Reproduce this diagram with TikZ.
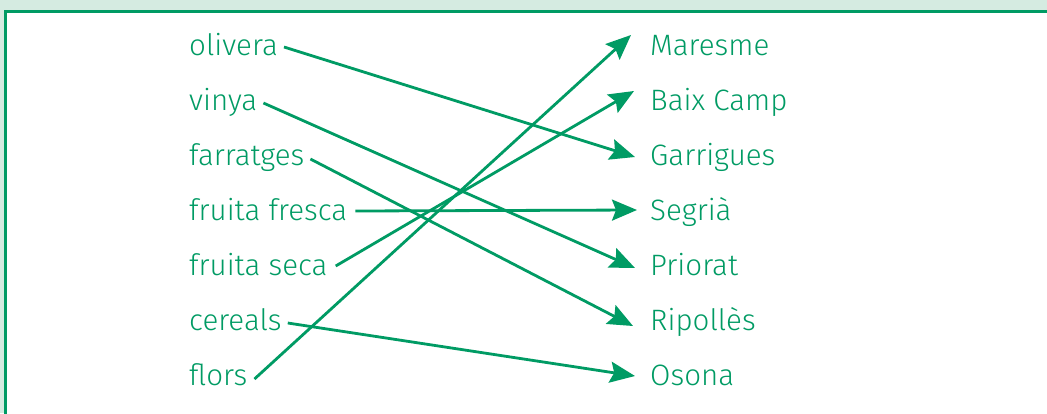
\documentclass[tikz,border=0pt]{standalone}
\usepackage{fontspec}
\setmainfont{Fira Sans Light}
\usetikzlibrary{arrows.meta}
\definecolor{vgreen}{RGB}{0,155,100}
\definecolor{lgreen}{RGB}{213,235,225}
\tikzset{
  lab/.style={inner sep=0pt, text=vgreen, font=\fontsize{29.5}{33}\selectfont},
  lleft/.style={lab, anchor=base west},
  lright/.style={lab, anchor=base west},
  arr/.style={draw=vgreen, line width=2.8pt, -{Stealth[length=25pt,width=21pt,inset=4pt]}}
}
\begin{document}
\begin{tikzpicture}[x=1pt,y=-1pt]
\useasboundingbox (0,0) rectangle (1047,413);
\fill[lgreen] (0,0) rectangle (1047,413);
\begin{scope}
\clip (0,0) rectangle (1047,413);
\draw[vgreen, fill=white, line width=2.8pt] (5.5,11.5) rectangle (1070,440);
\end{scope}
% left labels
\node[lleft] (olivera) at (189,55) {olivera};
\node[lleft] (vinya) at (189,110) {vinya};
\node[lleft] (farratges) at (189,165) {farratges};
\node[lleft] (fresca) at (189,220) {fruita fresca};
\node[lleft] (seca) at (189,275) {fruita seca};
\node[lleft] (cereals) at (189,330) {cereals};
\node[lleft] (flors) at (189,385) {flors};
% right labels
\node[lright] (Maresme) at (650,55) {Maresme};
\node[lright] (Baix) at (650,110) {Baix Camp};
\node[lright] (Garrigues) at (650,165) {Garrigues};
\node[lright] (Segria) at (650,220) {Segrià};
\node[lright] (Priorat) at (650,275) {Priorat};
\node[lright] (Ripolles) at (650,330) {Ripollès};
\node[lright] (Osona) at (650,385) {Osona};
% arrows
\draw[arr] ([shift={(6pt,8pt)}]olivera.base east) -- ([shift={(-15pt,8pt)}]Garrigues.base west);
\draw[arr] ([shift={(6pt,7pt)}]vinya.base east) -- ([shift={(-15pt,7pt)}]Priorat.base west);
\draw[arr] ([shift={(6pt,6pt)}]farratges.base east) -- ([shift={(-17pt,4pt)}]Ripolles.base west);
\draw[arr] ([shift={(8pt,9pt)}]fresca.base east) -- ([shift={(-13pt,10pt)}]Segria.base west);
\draw[arr] ([shift={(8pt,9pt)}]seca.base east) -- ([shift={(-16pt,19pt)}]Baix.base west);
\draw[arr] ([shift={(6pt,7pt)}]cereals.base east) -- ([shift={(-15pt,9pt)}]Osona.base west);
\draw[arr] ([shift={(7pt,6pt)}]flors.base east) -- ([shift={(-19pt,20pt)}]Maresme.base west);
\end{tikzpicture}
\end{document}
